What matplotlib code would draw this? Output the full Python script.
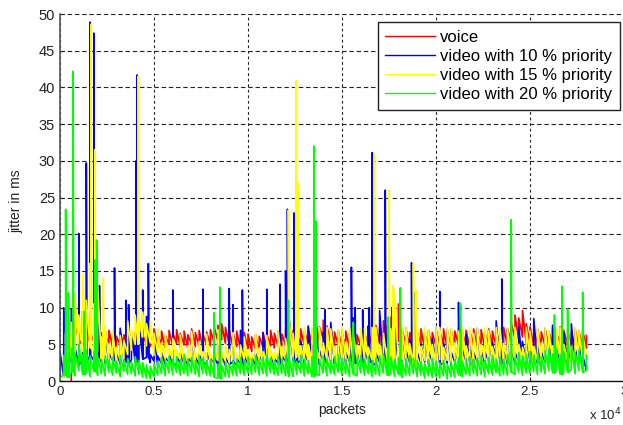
import numpy as np
import matplotlib
matplotlib.use('Agg')
import matplotlib.pyplot as plt

plt.rcParams['font.family'] = ['Liberation Sans', 'DejaVu Sans']

nan = float('nan')

# packet index of the baseline samples (every 200 packets, 0 .. 28000)
base_x = np.arange(0, 28001, 200)

# lower / upper edge of each noisy band, read every 200 packets
voice_lo = [nan, nan, nan, 0, 4.8, 5.5, 4.9, 5.6, 5.0, 5.3, 4.7,
            5.0, 4.5, 5.2, 4.6, 4.4, 4.9, 4.7, 5.1, 4.5, 4.8,
            4.9, 4.6, 5.0, 4.7, 5.2, 4.6, 4.8, 4.5, 5.0, 4.7,
            5.1, 4.6, 4.9, 4.4, 5.0, 4.7, 4.8, 4.5, 4.9, 4.8,
            5.2, 5.4, 5.6, 5.1, 5.0, 4.6, 4.7, 4.3, 4.6, 4.4,
            4.0, 4.3, 4.1, 4.6, 4.4, 4.8, 4.5, 4.7, 4.4, 4.9,
            4.6, 4.8, 4.5, 5.0, 4.7, 5.2, 4.9, 5.5, 5.3, 5.8,
            5.2, 5.0, 4.6, 4.8, 4.4, 4.7, 4.5, 4.6, 4.3, 4.7,
            4.5, 4.8, 4.6, 5.2, 5.0, 5.6, 5.3, 5.9, 5.0, 5.4,
            4.6, 4.9, 4.4, 4.8, 4.5, 4.9, 4.3, 4.7, 4.5, 4.8,
            4.6, 4.9, 4.4, 4.8, 4.6, 5.0, 4.5, 4.7, 4.6, 4.9,
            4.5, 4.8, 4.4, 4.9, 4.6, 4.7, 4.5, 5.0, 4.8, 5.4,
            5.8, 5.6, 6.0, 5.2, 5.0, 4.7, 4.9, 4.5, 4.8, 4.6,
            4.9, 4.5, 5.0, 4.7, 4.8, 4.4, 4.9, 4.6, 4.7, 4.5]
voice_hi = [nan, nan, nan, 1.0, 7.8, 8.5, 6.9, 7.5, 6.8, 7.6, 6.5,
            6.6, 6.2, 6.9, 6.4, 6.1, 6.7, 6.3, 6.8, 6.2, 6.6,
            6.9, 6.3, 7.0, 6.5, 7.1, 6.4, 6.8, 6.2, 6.9, 6.6,
            7.0, 6.5, 6.8, 6.3, 7.1, 6.6, 6.9, 6.4, 6.7, 7.0,
            7.4, 7.6, 7.8, 7.3, 7.0, 6.6, 6.8, 6.3, 6.6, 6.4,
            6.0, 6.3, 6.1, 6.6, 6.4, 6.9, 6.5, 6.8, 6.4, 7.0,
            6.6, 6.9, 6.5, 7.1, 6.8, 7.3, 7.0, 7.8, 7.4, 8.3,
            7.5, 7.2, 6.7, 6.9, 6.4, 6.8, 6.5, 6.7, 6.3, 6.8,
            6.6, 7.0, 6.8, 7.6, 7.3, 8.2, 7.5, 8.7, 7.4, 10.5,
            7.0, 7.2, 6.6, 7.0, 6.7, 7.1, 6.5, 6.9, 6.6, 7.0,
            6.8, 7.1, 6.6, 7.0, 6.8, 7.2, 6.7, 6.9, 6.8, 7.1,
            6.7, 7.0, 6.6, 7.1, 6.8, 6.9, 6.7, 7.3, 7.2, 8.0,
            9.0, 8.6, 9.6, 7.8, 7.4, 6.9, 7.1, 6.7, 7.2, 6.8,
            7.2, 6.7, 7.4, 6.9, 7.0, 6.6, 7.1, 6.8, 6.9, 6.2]
voice_spike_x = [1000]
voice_spike_y = [10.7]

video10_lo = [0, 0.5, 3.0, 2.5, 2.8, 2.2, 3.0, 2.6, 3.5, 2.8, 3.2,
              2.6, 2.4, 2.2, 2.8, 2.5, 2.3, 2.7, 2.4, 2.9, 2.6,
              2.8, 3.0, 3.2, 2.5, 2.7, 2.1, 2.4, 2.2, 2.6, 2.3,
              2.2, 2.5, 2.3, 2.1, 2.6, 2.4, 2.2, 2.5, 2.3, 2.6,
              2.4, 2.2, 2.5, 2.1, 2.3, 2.6, 2.2, 2.4, 2.0, 2.3,
              2.5, 2.2, 2.4, 2.6, 2.3, 2.5, 2.1, 2.4, 2.2, 2.7,
              2.5, 2.8, 2.4, 2.9, 2.3, 2.6, 2.8, 2.5, 2.2, 2.7,
              2.4, 2.6, 2.3, 2.8, 2.5, 2.2, 2.7, 2.4, 2.6, 2.3,
              2.5, 2.7, 2.4, 2.2, 2.6, 2.8, 2.3, 2.5, 2.7, 2.4,
              2.6, 2.3, 2.5, 2.8, 2.2, 2.4, 2.6, 2.3, 2.7, 2.5,
              2.2, 2.5, 2.4, 2.1, 2.6, 2.3, 2.5, 2.7, 2.4, 2.2,
              2.6, 2.4, 2.3, 2.7, 2.5, 2.8, 2.4, 2.6, 2.3, 2.5,
              2.4, 2.7, 2.5, 2.3, 2.6, 2.8, 2.4, 2.2, 2.6, 2.5,
              2.7, 2.4, 2.8, 2.5, 2.3, 2.6, 2.4, 2.7, 1.8, 1.5]
video10_hi = [4.0, 10.0, 10.0, 9.8, 4.5, 6.0, 9.5, 5.0, 12.5, 6.5, 8.0,
              5.5, 7.0, 3.8, 6.0, 4.2, 7.2, 5.0, 3.6, 6.5, 4.8,
              7.8, 4.0, 8.8, 3.6, 6.2, 3.4, 3.9, 3.2, 3.7, 6.5,
              3.3, 3.8, 3.5, 3.1, 6.6, 3.4, 3.6, 3.2, 3.9, 3.4,
              3.3, 6.8, 3.5, 3.2, 3.7, 3.4, 3.1, 6.9, 3.4, 3.6,
              3.2, 3.8, 3.5, 6.6, 3.3, 3.6, 3.1, 3.7, 3.4, 6.8,
              8.2, 4.5, 6.8, 5.5, 3.8, 7.5, 5.0, 9.0, 4.2, 6.6,
              4.6, 8.0, 4.0, 5.8, 7.0, 3.9, 5.2, 8.6, 4.4, 6.4,
              4.0, 7.5, 5.2, 3.8, 9.6, 4.6, 6.2, 4.0, 7.2, 5.0,
              6.8, 4.2, 5.6, 8.0, 3.9, 5.0, 6.6, 4.1, 5.8, 7.3,
              3.8, 5.2, 7.0, 4.0, 4.9, 7.6, 4.3, 6.4, 5.1, 3.9,
              7.2, 4.6, 4.0, 6.8, 5.3, 8.2, 4.2, 5.0, 7.0, 4.5,
              3.9, 7.4, 5.4, 6.3, 4.4, 8.5, 4.8, 4.1, 7.1, 5.0,
              7.6, 4.3, 5.5, 6.6, 4.6, 7.8, 4.4, 5.9, 3.5, 2.0]
video10_spike_x = [1000, 1400, 1600, 1800, 2100, 2900, 3500, 3650, 4050, 4100,
                   4400, 4700, 6000, 7600, 9000, 9200, 9700, 11000, 11700, 12000,
                   12100, 12450, 12600, 14100, 15500, 15700, 16100, 16450, 16600, 17300,
                   17650, 18700, 18900, 20200, 21200, 23500]
video10_spike_y = [20.1, 29.7, 48.9, 47.4, 13.0, 15.4, 11.0, 10.4, 30.0, 41.7,
                   12.4, 16.0, 12.4, 12.5, 12.6, 10.4, 12.4, 12.5, 13.2, 15.0,
                   23.4, 22.9, 27.0, 9.7, 15.5, 10.0, 9.7, 10.0, 31.1, 26.0,
                   10.0, 16.1, 12.0, 12.2, 10.7, 13.9]

video15_lo = [0, 0.5, 2.0, 3.0, 3.5, 3.2, 4.0, 3.8, 4.5, 3.6, 4.0,
              3.0, 3.2, 2.6, 2.9, 2.4, 2.8, 3.0, 3.6, 4.2, 5.0,
              5.5, 6.0, 4.8, 5.2, 3.5, 3.8, 2.6, 3.0, 2.4, 2.8,
              2.5, 2.9, 2.3, 2.6, 2.8, 2.4, 2.7, 2.5, 2.9, 2.3,
              2.6, 2.8, 2.4, 2.7, 2.5, 2.9, 2.3, 2.6, 2.8, 2.4,
              2.3, 2.7, 2.5, 2.4, 2.8, 2.6, 2.4, 2.9, 2.7, 3.0,
              3.5, 3.2, 4.0, 2.6, 2.9, 2.3, 2.7, 2.5, 3.0, 2.2,
              2.8, 2.5, 3.1, 2.3, 2.7, 2.6, 2.9, 2.2, 3.0, 2.5,
              2.7, 2.3, 2.9, 2.5, 3.0, 2.2, 2.8, 2.6, 3.2, 2.4,
              2.9, 2.5, 2.7, 2.2, 3.0, 2.6, 2.8, 2.3, 2.7, 2.5,
              2.9, 2.2, 2.8, 2.6, 3.0, 2.4, 2.7, 2.5, 2.9, 2.3,
              2.8, 2.6, 2.9, 2.4, 2.7, 2.5, 3.0, 2.3, 2.8, 2.6,
              2.9, 2.4, 2.7, 2.6, 3.0, 2.3, 2.8, 2.5, 2.9, 2.4,
              2.8, 2.6, 3.0, 2.3, 2.7, 2.5, 2.9, 2.4, 2.8, 3.0]
video15_hi = [0.5, 3.0, 10.0, 8.0, 12.0, 9.0, 14.5, 11.0, 16.0, 10.5, 13.0,
              6.0, 7.5, 5.0, 6.8, 4.6, 6.2, 5.5, 8.2, 7.0, 9.0,
              8.5, 9.4, 7.8, 8.2, 6.5, 7.2, 5.2, 6.4, 4.6, 5.8,
              4.2, 6.3, 3.8, 4.8, 6.8, 3.9, 5.4, 4.0, 6.4, 3.7,
              4.6, 7.0, 3.9, 5.0, 4.3, 6.6, 3.8, 4.9, 6.0, 4.1,
              3.8, 6.4, 4.5, 4.0, 6.2, 4.4, 3.9, 6.8, 4.7, 5.8,
              8.0, 6.5, 10.5, 4.8, 7.3, 5.0, 7.2, 4.6, 7.3, 5.2,
              7.3, 7.1, 4.7, 6.9, 7.3, 5.3, 7.3, 6.4, 4.9, 7.2,
              7.2, 4.6, 7.3, 7.3, 5.0, 6.5, 4.5, 7.1, 12.5, 4.8,
              7.3, 7.2, 5.1, 6.6, 7.3, 4.7, 7.3, 6.9, 5.0, 7.3,
              7.3, 4.6, 7.3, 7.2, 5.2, 6.8, 7.2, 4.8, 7.3, 6.5,
              7.3, 5.0, 7.3, 6.9, 4.7, 7.3, 7.3, 5.1, 7.3, 4.6,
              7.3, 5.0, 4.6, 7.3, 6.8, 4.7, 7.3, 5.2, 7.3, 6.9,
              4.8, 7.2, 7.3, 5.0, 7.2, 4.6, 7.3, 6.8, 6.5, 4.0]
video15_spike_x = [1650, 1850, 2300, 4150, 12150, 12550, 12650, 16700, 17500, 17700,
                   18800, 18950]
video15_spike_y = [48.6, 31.5, 14.0, 41.5, 23.3, 41.0, 27.0, 31.0, 26.0, 13.0,
                   16.0, 12.4]

video20_lo = [0, 0.8, 0.5, 1.2, 0.7, 1.4, 0.9, 1.1, 0.6, 1.3, 0.8,
              1.0, 0.7, 1.2, 0.8, 1.1, 0.6, 1.3, 0.9, 1.0, 0.7,
              0.9, 0.5, 0.4, 0.3, 0.6, 0.8, 1.0, 0.7, 1.1, 0.9,
              1.2, 0.8, 1.0, 0.7, 1.1, 0.9, 0.6, 1.0, 0.8, 0.7,
              0.5, 0.4, 0.3, 0.6, 0.5, 0.8, 0.7, 1.0, 0.8, 1.1,
              0.9, 1.2, 0.8, 1.0, 0.7, 1.1, 0.9, 0.8, 1.0, 0.7,
              0.8, 0.6, 0.9, 1.1, 0.7, 1.0, 0.6, 0.9, 0.8, 1.1,
              0.7, 1.0, 0.9, 1.2, 0.8, 1.0, 0.6, 0.9, 0.7, 1.1,
              0.8, 1.0, 0.6, 0.9, 0.7, 1.1, 0.8, 1.0, 0.6, 0.9,
              0.5, 0.8, 0.7, 1.0, 0.6, 0.8, 0.4, 0.7, 0.5, 0.6,
              0.4, 0.7, 0.3, 0.6, 0.5, 0.8, 0.6, 0.9, 0.7, 1.0,
              0.7, 0.9, 0.6, 1.0, 0.8, 1.1, 0.7, 0.9, 0.8, 1.2,
              0.9, 1.2, 0.8, 1.1, 1.0, 1.3, 0.9, 1.2, 1.0, 1.4,
              1.1, 1.5, 0.9, 1.3, 1.2, 1.6, 1.0, 1.4, 1.2, 1.5]
video20_hi = [0.5, 3.5, 3.0, 4.5, 3.8, 5.0, 3.6, 4.2, 3.4, 4.0, 3.3,
              2.9, 3.4, 2.8, 3.2, 2.7, 3.5, 2.9, 3.1, 2.6, 3.3,
              2.8, 2.5, 2.2, 2.0, 2.4, 2.7, 3.2, 2.9, 3.4, 3.0,
              3.3, 2.9, 3.6, 3.0, 3.2, 2.8, 3.4, 3.1, 2.7, 2.9,
              2.6, 2.3, 2.1, 2.5, 2.4, 2.8, 3.0, 3.2, 2.9, 3.3,
              3.0, 3.4, 2.9, 3.2, 3.5, 3.1, 2.8, 3.3, 3.0, 3.4,
              2.9, 3.2, 2.7, 3.5, 3.0, 2.8, 3.3, 3.1, 2.9, 3.4,
              3.0, 2.8, 3.3, 3.6, 3.1, 2.9, 3.4, 3.0, 3.2, 3.5,
              3.0, 3.3, 2.8, 3.1, 3.4, 3.7, 3.0, 3.3, 2.9, 3.2,
              2.7, 3.0, 3.4, 3.1, 2.8, 2.6, 2.4, 2.9, 3.1, 2.7,
              2.5, 2.8, 2.3, 2.6, 2.9, 3.2, 2.7, 3.0, 3.3, 2.9,
              3.1, 3.4, 2.8, 3.2, 3.5, 3.0, 3.3, 2.9, 3.6, 3.8,
              3.2, 3.9, 3.4, 3.6, 4.0, 3.5, 3.8, 3.3, 4.1, 4.4,
              3.7, 4.5, 3.6, 4.0, 4.3, 4.8, 3.9, 4.2, 3.8, 3.5]
video20_spike_x = [300, 450, 700, 1300, 1850, 1950, 8200, 8500, 12150, 13500,
                   13600, 15600, 17450, 18100, 21300, 24000, 26300, 26700, 27000, 27800]
video20_spike_y = [23.4, 12.0, 42.2, 9.5, 16.5, 19.2, 9.3, 12.8, 11.0, 32.0,
                   21.8, 8.0, 8.7, 12.7, 10.6, 22.0, 9.0, 12.9, 9.8, 12.1]

x_ticks = [0, 0.5, 1, 1.5, 2, 2.5, 3]
x_tick_labels = ['0', '0.5', '1', '1.5', '2', '2.5', '3']
y_ticks = [0, 5, 10, 15, 20, 25, 30, 35, 40, 45, 50]


def build(lo, hi, sx, sy):
    # vertical stroke lo->hi at each sample, spikes inserted as thin needles
    xs, ys = [], []
    j = 0
    n = len(base_x)
    for k in range(n):
        xs += [base_x[k], base_x[k]]
        ys += [lo[k], hi[k]]
        nxt = base_x[k + 1] if k + 1 < n else np.inf
        while j < len(sx) and sx[j] < nxt:
            xs += [sx[j], sx[j], sx[j] + 30]
            ys += [lo[k], sy[j], lo[k]]
            j += 1
    return np.array(xs) / 1e4, np.array(ys)


series = [
    (voice_lo, voice_hi, voice_spike_x, voice_spike_y, '#ff0000', 'voice'),
    (video10_lo, video10_hi, video10_spike_x, video10_spike_y, '#0000ff', 'video with 10 % priority'),
    (video15_lo, video15_hi, video15_spike_x, video15_spike_y, '#ffff00', 'video with 15 % priority'),
    (video20_lo, video20_hi, video20_spike_x, video20_spike_y, '#00ff00', 'video with 20 % priority'),
]

fig = plt.figure(figsize=(6.23, 4.25), dpi=100)
ax = fig.add_axes([0.0963, 0.1035, 0.9053, 0.8635])

for lo, hi, sx, sy, color, label in series:
    x, y = build(lo, hi, sx, sy)
    ax.plot(x, y, color=color, linewidth=1.2, label=label)

ax.set_xlim(0, 3)
ax.set_ylim(0, 50)
ax.set_xticks(x_ticks)
ax.set_xticklabels(x_tick_labels)
ax.set_yticks(y_ticks)
ax.tick_params(direction='in', length=3, colors='#222222')
ax.tick_params(axis='x', labelsize=9.5)
ax.tick_params(axis='y', labelsize=10.5)

ax.yaxis.grid(True, color='#222222', linestyle=(0, (4, 2.5)), linewidth=0.8)
ax.xaxis.grid(True, color='#222222', linestyle=(0, (2.5, 2.5)), linewidth=0.8)
ax.set_axisbelow(True)

ax.spines['top'].set_visible(False)
ax.spines['right'].set_visible(False)
ax.spines['left'].set_color('#555555')
ax.spines['left'].set_linewidth(1.2)
ax.spines['bottom'].set_color('#111111')
ax.spines['bottom'].set_linewidth(1.0)

ax.set_xlabel('packets', fontsize=10, color='#222222', labelpad=4)
ax.set_ylabel('jitter in ms', fontsize=10, color='#222222')
ax.yaxis.set_label_coords(-0.065, 0.49)

leg = ax.legend(loc='upper right', bbox_to_anchor=(0.993, 0.978), fontsize=12,
                frameon=True, fancybox=False, handlelength=3.0, borderpad=0.45,
                labelspacing=0.25, handletextpad=0.3, borderaxespad=0)
leg.get_frame().set_edgecolor('#222222')
leg.get_frame().set_linewidth(1.0)
leg.get_frame().set_alpha(1)
for line in leg.get_lines():
    line.set_linewidth(1.0)

fig.text(0.945, 0.003, r'x 10$^{4}$', fontsize=9.5, color='#222222', ha='left', va='bottom')

fig.savefig('out.png', dpi=100)
